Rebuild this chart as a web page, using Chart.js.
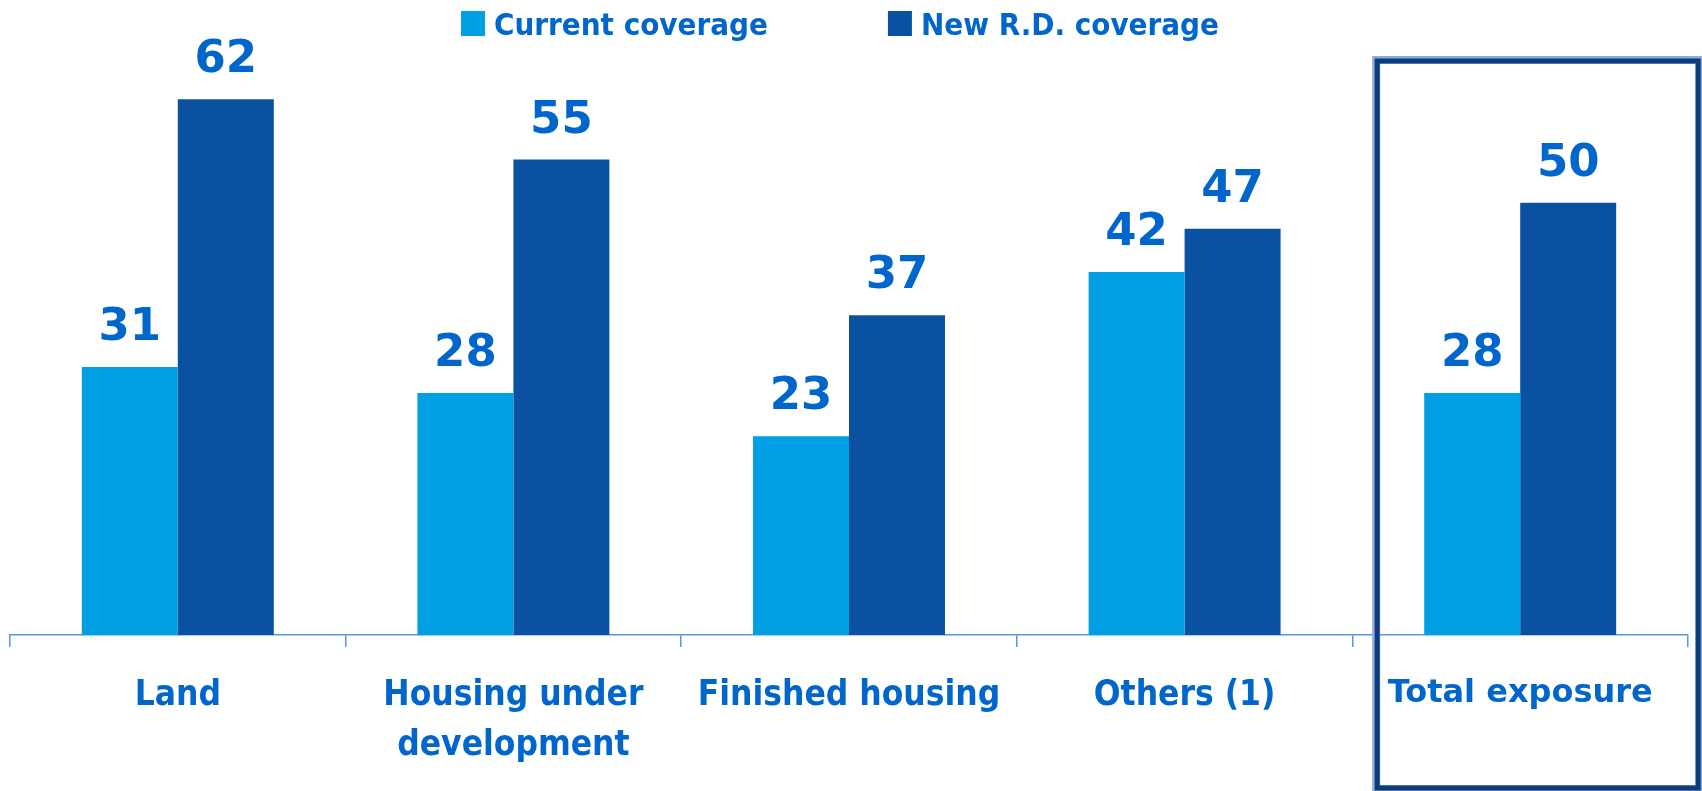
<!DOCTYPE html>
<html>
<head>
<meta charset="utf-8">
<script src="https://cdn.jsdelivr.net/npm/chart.js@4.4.1/dist/chart.umd.min.js"></script>
<style>
  html, body { margin: 0; padding: 0; background: #fff; }
  #wrap { position: relative; width: 1702px; height: 791px; }
</style>
</head>
<body>
<div id="wrap"><canvas id="coverageChart"></canvas></div>
<script>
// ===== DATA =====
const categories = ['Land', ['Housing under', 'development'], 'Finished housing', 'Others (1)', 'Total exposure'];
const currentCoverage = [31, 28, 23, 42, 28];
const newRdCoverage = [62, 55, 37, 47, 50];
const seriesNames = ['Current coverage', 'New R.D. coverage'];
const seriesColors = ['#009fe3', '#0a51a1'];

const TEXT_BLUE = '#0066cc';
const NARROW = '"DejaVu Sans Condensed", "Liberation Sans Narrow", sans-serif';
const WIDE = '"DejaVu Sans", "Liberation Sans", sans-serif';

// ===== VALUE LABELS ABOVE BARS =====
const barValues = {
  id: 'barValues',
  afterDatasetsDraw(chart) {
    const ctx = chart.ctx;
    ctx.save();
    ctx.font = `bold 45px ${WIDE}`;
    ctx.fillStyle = TEXT_BLUE;
    ctx.textAlign = 'center';
    ctx.textBaseline = 'alphabetic';
    chart.data.datasets.forEach((ds, i) => {
      chart.getDatasetMeta(i).data.forEach((bar, j) => {
        ctx.fillText(ds.data[j], bar.x, bar.y - 27);
      });
    });
    ctx.restore();
  }
};

// ===== LEGEND ROW (spaced like the original) =====
const legendRow = {
  id: 'legendRow',
  afterDraw(chart) {
    const ctx = chart.ctx;
    ctx.save();
    ctx.font = `bold 31px ${NARROW}`;
    ctx.textBaseline = 'alphabetic';
    ctx.textAlign = 'left';
    let x = 461;
    chart.data.datasets.forEach(ds => {
      ctx.fillStyle = ds.backgroundColor;
      ctx.fillRect(x, 11, 24, 25);
      ctx.fillStyle = TEXT_BLUE;
      ctx.fillText(ds.label, x + 33, 35);
      x += 33 + ctx.measureText(ds.label).width + 120;
    });
    ctx.restore();
  }
};

// ===== FRAME AROUND TOTAL =====
const totalFrame = {
  id: 'totalFrame',
  afterDraw(chart) {
    const ctx = chart.ctx;
    const cx = chart.scales.x.getPixelForValue(categories.length - 1);
    const left = cx - 144, right = cx + 179, top = 60, bottom = 789;
    ctx.save();
    ctx.strokeStyle = '#8eaad8';
    ctx.lineWidth = 8;
    ctx.strokeRect(left, top, right - left, bottom - top);
    ctx.strokeStyle = '#0d3c7c';
    ctx.lineWidth = 5;
    ctx.strokeRect(left + 1, top + 1, right - left - 2, bottom - top - 2);
    ctx.restore();
  }
};

const ctx = document.getElementById('coverageChart').getContext('2d');
new Chart(ctx, {
  type: 'bar',
  data: {
    labels: categories,
    datasets: [
      { label: seriesNames[0], data: currentCoverage, backgroundColor: seriesColors[0] },
      { label: seriesNames[1], data: newRdCoverage, backgroundColor: seriesColors[1] }
    ]
  },
  options: {
    responsive: true,
    maintainAspectRatio: false,
    animation: false,
    datasets: { bar: { categoryPercentage: 0.572, barPercentage: 1.0 } },
    layout: { padding: { top: 30, left: 10, right: 14, bottom: -4 } },
    plugins: {
      legend: { display: false },
      tooltip: { enabled: false }
    },
    scales: {
      y: { display: false, min: 0, max: 70 },
      x: {
        offset: true,
        border: { display: true, color: '#5f95d6', width: 1.5 },
        grid: { display: true, drawOnChartArea: false, drawTicks: true, tickLength: 12, color: '#5f95d6', lineWidth: 1.5 },
        ticks: {
          padding: 24,
          maxRotation: 0,
          autoSkip: false,
          color: TEXT_BLUE,
          font: (c) => c.index === categories.length - 1
            ? { family: WIDE, size: 32, weight: 'bold', lineHeight: 1.43 }
            : { family: NARROW, size: 35, weight: 'bold', lineHeight: 1.43 }
        }
      }
    }
  },
  plugins: [barValues, legendRow, totalFrame]
});
</script>
</body>
</html>
